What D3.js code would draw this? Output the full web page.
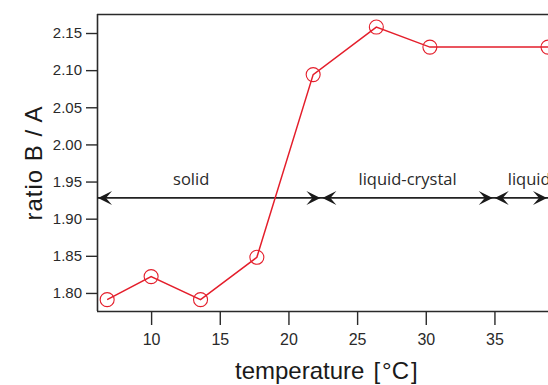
<!DOCTYPE html>
<html>
<head>
<meta charset="utf-8">
<script src="https://cdn.jsdelivr.net/npm/d3@7"></script>
<style>
  html, body { margin: 0; padding: 0; background: #fff; }
  svg { display: block; }
</style>
</head>
<body>
<svg id="chart" width="548" height="385"></svg>
<script>
// Measured ratio B/A against temperature
const temperature = [6.8, 10, 13.6, 17.7, 21.8, 26.4, 30.3, 38.9];
const ratio = [1.791, 1.822, 1.791, 1.848, 2.094, 2.158, 2.131, 2.131];

// Phase ranges (°C) and their labels
const phaseNames = ["solid", "liquid-crystal", "liquid"];
const phaseStart = [6.06, 22.4, 34.95];
const phaseEnd = [22.4, 34.95, 38.9];
const phaseLevel = 1.928;

const xTicks = [10, 15, 20, 25, 30, 35];
const yTicks = [1.80, 1.85, 1.90, 1.95, 2.00, 2.05, 2.10, 2.15];

const svg = d3.select("#chart");
const plotLeft = 97, plotTop = 14, plotRight = 548, plotBottom = 311;

const x = d3.scaleLinear().domain([6.06, 38.9]).range([plotLeft, plotRight]);
const y = d3.scaleLinear().domain([1.7757, 2.1756]).range([plotBottom, plotTop]);

const axisColor = "#2a2a2a";
const tickFont = "'Liberation Sans Narrow', 'Liberation Sans', Arial, sans-serif";

// Frame: top border plus the two axes
svg.append("line")
  .attr("x1", plotLeft).attr("x2", plotRight).attr("y1", plotTop + 0.5).attr("y2", plotTop + 0.5)
  .attr("stroke", axisColor).attr("stroke-width", 1.5);

const xAxis = svg.append("g")
  .attr("transform", `translate(0,${plotBottom})`)
  .call(d3.axisBottom(x).tickValues(xTicks).tickSize(14).tickPadding(9).tickFormat(d3.format("d")));
const yAxis = svg.append("g")
  .attr("transform", `translate(${plotLeft},0)`)
  .call(d3.axisLeft(y).tickValues(yTicks).tickSize(11).tickPadding(4).tickFormat(d3.format(".2f")));

[xAxis, yAxis].forEach(g => {
  g.select(".domain").attr("stroke", axisColor).attr("stroke-width", 1.6);
  g.selectAll(".tick line").attr("stroke", axisColor).attr("stroke-width", 1.4);
  g.selectAll(".tick text")
    .attr("fill", "#2a2a2a")
    .style("font-family", tickFont);
});
xAxis.selectAll(".tick text").style("font-size", "16px");
yAxis.selectAll(".tick text").style("font-size", "15px");
xAxis.select(".domain").attr("d", `M${plotLeft},0.5H${plotRight}`);
yAxis.select(".domain").attr("d", `M0.5,${plotBottom}V${plotTop}`);

// Phase arrows
const ay = y(phaseLevel);
svg.append("line")
  .attr("x1", x(phaseStart[0])).attr("x2", x(phaseEnd[phaseEnd.length - 1]))
  .attr("y1", ay).attr("y2", ay)
  .attr("stroke", "#222").attr("stroke-width", 1.6);

function arrowHead(tipX, dir) {
  // dir = -1 points left, +1 points right
  const L = 14, W = 7, N = 8;
  const p = [
    [tipX, ay],
    [tipX - dir * L, ay - W],
    [tipX - dir * N, ay],
    [tipX - dir * L, ay + W]
  ];
  svg.append("path")
    .attr("d", "M" + p.map(q => q.join(",")).join("L") + "Z")
    .attr("fill", "#1a1a1a");
}
phaseStart.forEach((s, i) => {
  arrowHead(x(s) + 1, -1);
  arrowHead(x(phaseEnd[i]) - 1, 1);
});

svg.append("g").selectAll("text")
  .data(phaseNames)
  .join("text")
  .attr("x", (d, i) => i === 2 ? x(phaseStart[i]) + 14 : (x(phaseStart[i]) + x(phaseEnd[i])) / 2 + (i === 0 ? -18 : 0))
  .attr("y", ay - 13)
  .attr("text-anchor", (d, i) => i === 2 ? "start" : "middle")
  .attr("fill", "#2a2a2a")
  .style("font-family", "'Open Sans', 'Noto Sans', sans-serif")
  .style("font-size", "16.5px")
  .text(d => d);

// Data series
const red = "#e41e2b";
const pts = temperature.map((t, i) => [t, ratio[i]]);
svg.append("path")
  .datum(pts)
  .attr("fill", "none")
  .attr("stroke", red)
  .attr("stroke-width", 1.5)
  .attr("d", d3.line().x(d => x(d[0])).y(d => y(d[1])));

svg.append("g").selectAll("circle")
  .data(pts)
  .join("circle")
  .attr("cx", d => x(d[0]))
  .attr("cy", d => y(d[1]))
  .attr("r", 7)
  .attr("fill", "none")
  .attr("stroke", red)
  .attr("stroke-width", 1.1);

// Axis titles
const xTitle = svg.append("text")
  .attr("x", 235).attr("y", 379)
  .attr("fill", "#1a1a1a")
  .style("font-family", "'Liberation Sans', Arial, sans-serif")
  .style("font-size", "24px");
xTitle.append("tspan").text("temperature");
xTitle.append("tspan").attr("dx", 9).text("[");
xTitle.append("tspan").attr("dx", 2).text("°C");
xTitle.append("tspan").attr("dx", 2).text("]");

svg.append("text")
  .attr("transform", "translate(42,163) rotate(-90)")
  .attr("text-anchor", "middle")
  .attr("fill", "#1a1a1a")
  .style("font-family", "'Liberation Sans', Arial, sans-serif")
  .style("font-size", "24px")
  .style("letter-spacing", "1px")
  .text("ratio B / A");
</script>
</body>
</html>
